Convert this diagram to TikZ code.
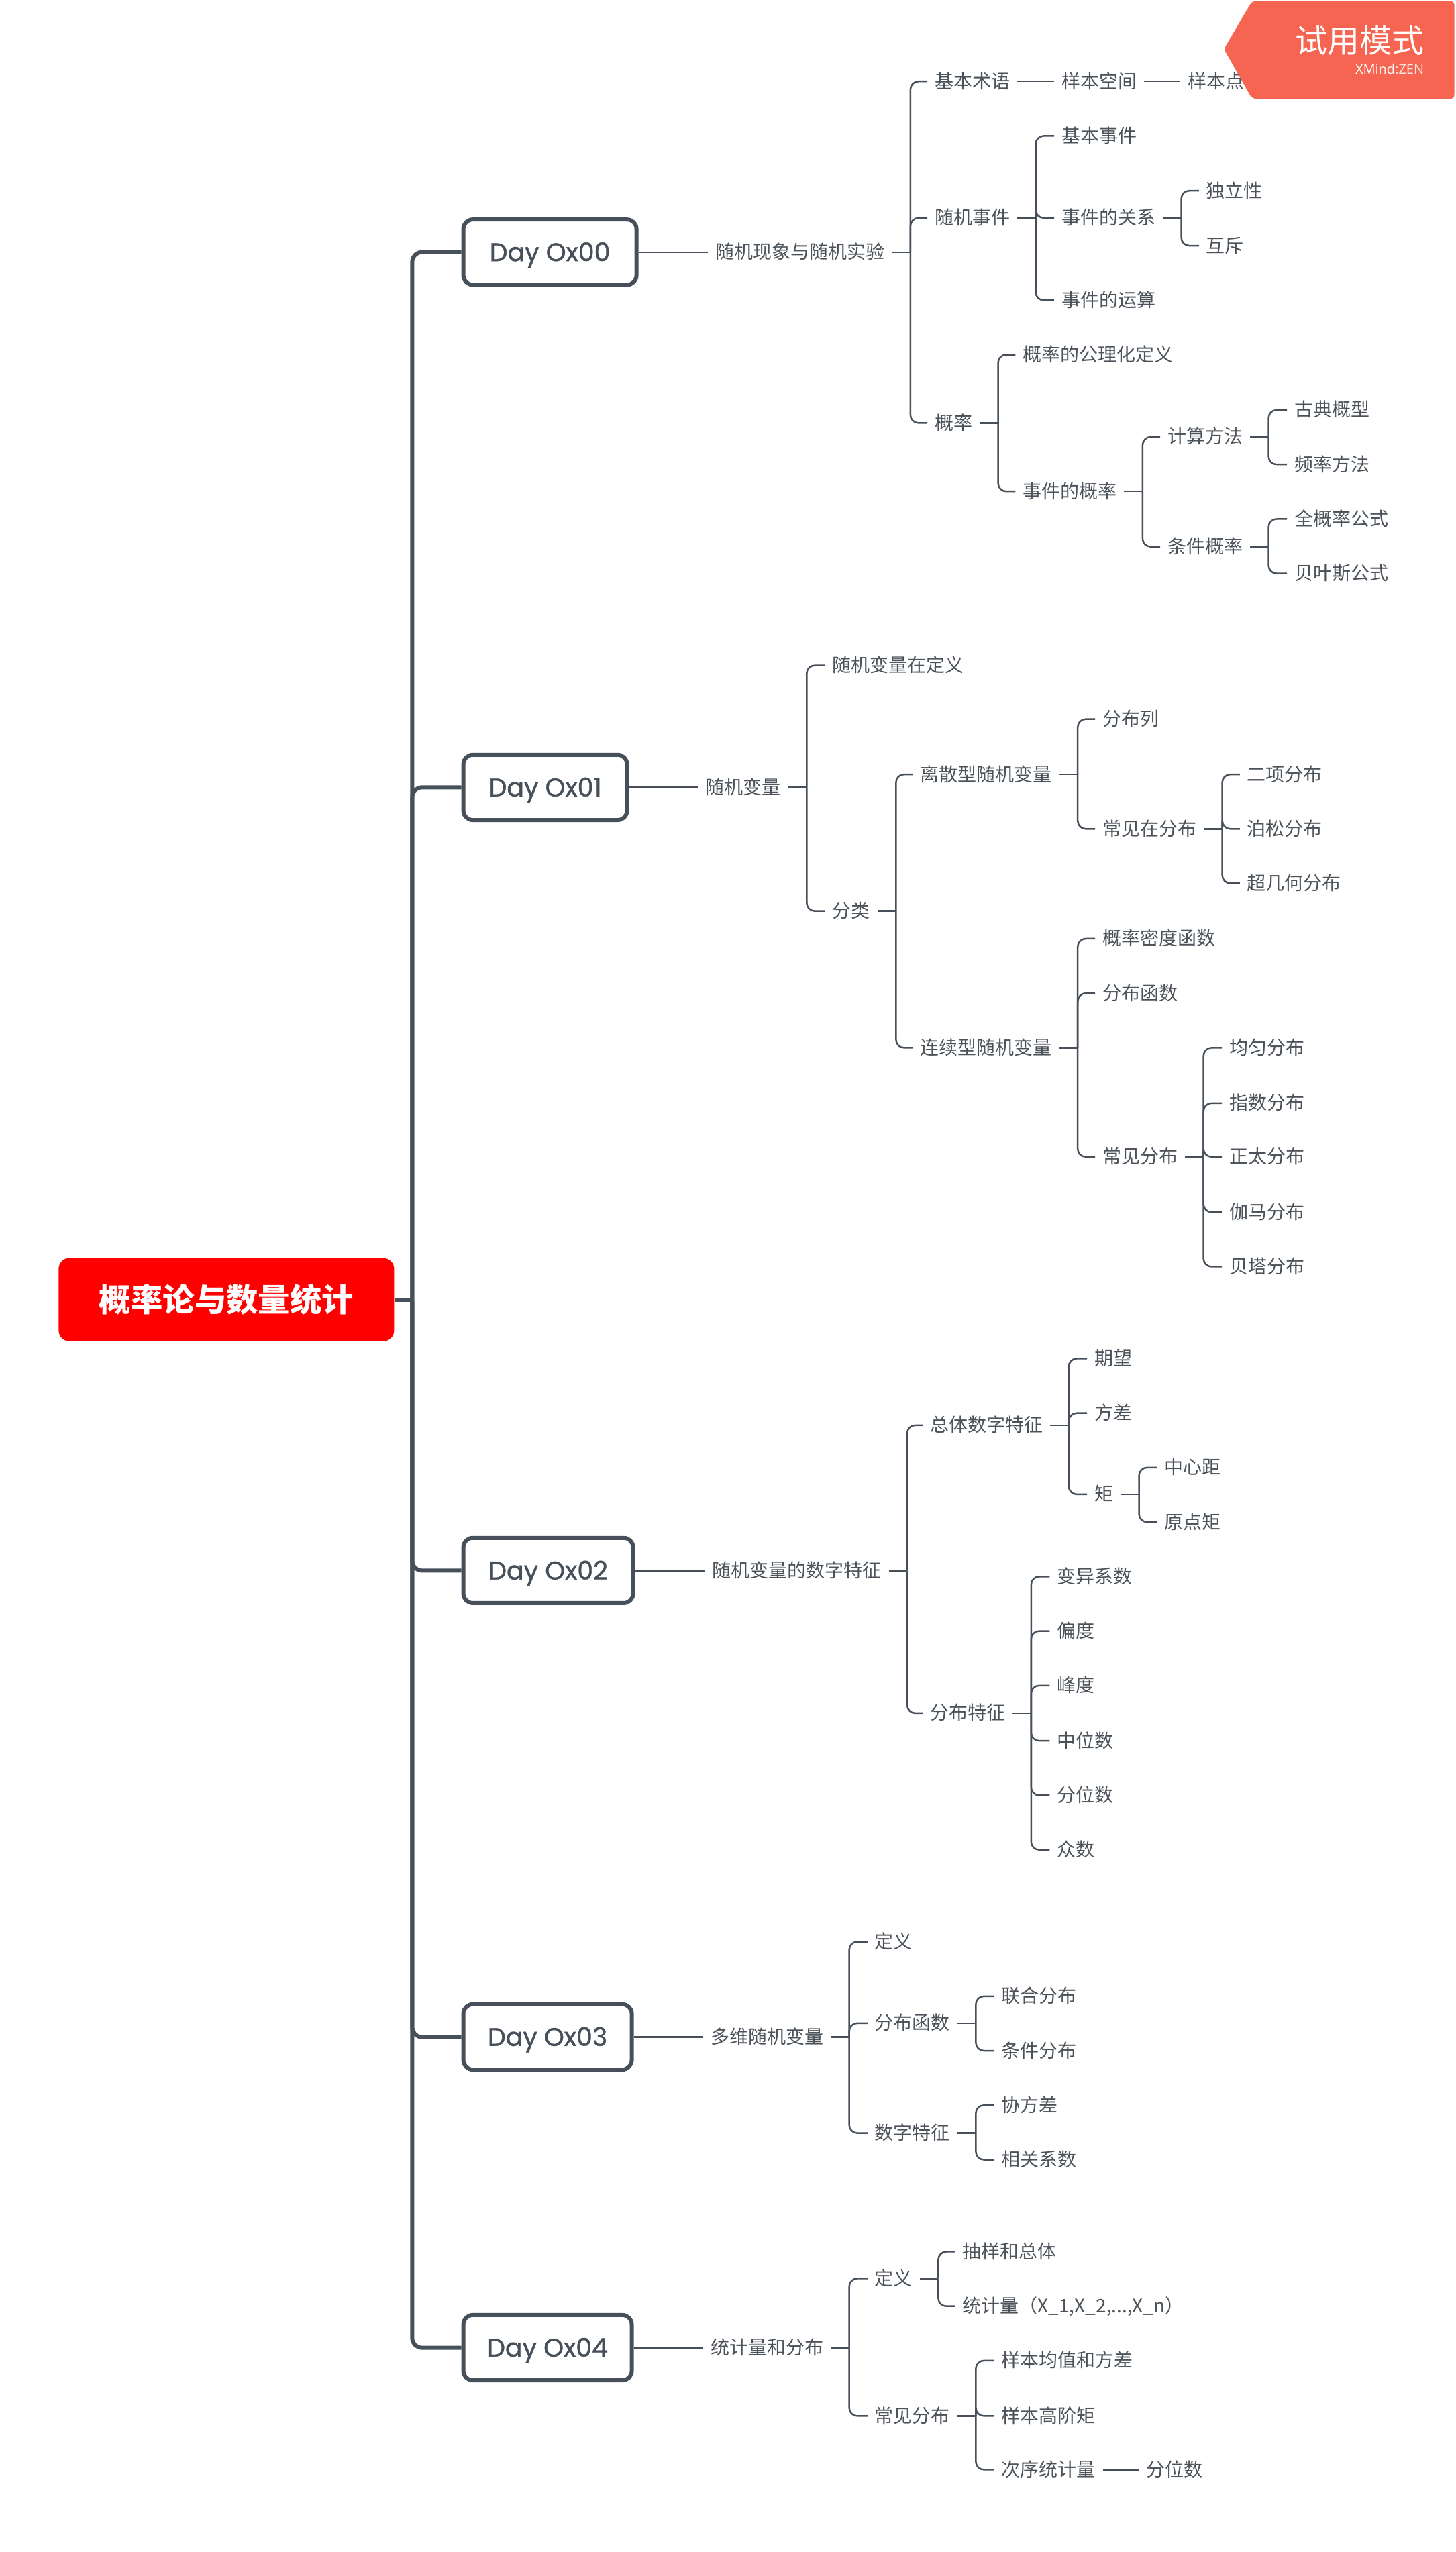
\documentclass[tikz,border=0pt]{standalone}
\usepackage{fontspec}
\setmainfont{Noto Sans CJK SC}
\newfontfamily\dayfont[FakeBold=1]{Poppins}
\newfontfamily\badgelatin{Open Sans}
\usetikzlibrary{calc}
\definecolor{ink}{HTML}{47505A}
\definecolor{inktext}{HTML}{4B5259}
\definecolor{badge}{HTML}{F56551}
\tikzset{
  tx/.style={anchor=west,xshift=-5.5pt,inner xsep=5.5pt,inner ysep=0pt,outer sep=0pt,font=\fontsize{14pt}{14pt}\selectfont,text=inktext,text height=11.9pt,text depth=1.9pt},
  daybox/.style={draw=ink,line width=3pt,rounded corners=7pt,fill=white,anchor=west,minimum width=#1,minimum height=48.6pt,inner sep=0pt,text=ink,font=\fontsize{19pt}{19pt}\dayfont,text height=13.3pt,text depth=0pt},
  rootbox/.style={fill=red,rounded corners=8pt,anchor=west,minimum width=250pt,minimum height=62pt,inner sep=0pt,text=white,font=\fontsize{23.7pt}{24pt}\selectfont\bfseries,text height=20.8pt,text depth=2.8pt},
  trunk/.style={draw=ink,line width=3pt,rounded corners=7pt},
  conn/.style={draw=ink,line width=1.25pt},
  brace/.style={draw=ink,line width=1.25pt,rounded corners=6pt},
}
\newcommand\kids[2]{%
  \draw[conn] (#1.east) -- ++(13.75pt,0) coordinate (jct);
  \foreach \k in {#2}{\draw[brace] (jct) |- (\k.west);}%
}
\newcommand\link[2]{\draw[conn] (#1.east) -- (#2.west);}
\begin{document}
\begin{tikzpicture}[x=1.21175pt,y=-1.2122pt]
\useasboundingbox (0,0) rectangle (895,1568.6);
% root and day boxes
\node[rootbox] (root) at (35.9,798.8) {概率论与数量统计};
\node[daybox=129pt] (d0) at (283.7,155) {Day Ox00};
\node[daybox=122pt] (d1) at (283.7,484) {Day Ox01};
\node[daybox=126.5pt] (d2) at (283.7,965.3) {Day Ox02};
\node[daybox=125.5pt] (d3) at (283.7,1252) {Day Ox03};
\node[daybox=125.5pt] (d4) at (283.7,1443) {Day Ox04};
% branch 0
\node[tx] (a0) at (440,155) {随机现象与随机实验};
\node[tx] (a1) at (574.8,50) {基本术语};
\node[tx] (a2) at (652.8,50) {样本空间};
\node[tx] (a3) at (730.5,50) {样本点};
\node[tx] (a4) at (574.8,134) {随机事件};
\node[tx] (a5) at (652.8,83.5) {基本事件};
\node[tx] (a6) at (652.8,134) {事件的关系};
\node[tx] (a7) at (741.8,117.2) {独立性};
\node[tx] (a8) at (741.8,151) {互斥};
\node[tx] (a9) at (652.8,184.5) {事件的运算};
\node[tx] (a10) at (574.8,260) {概率};
\node[tx] (a11) at (629,218) {概率的公理化定义};
\node[tx] (a12) at (629,302) {事件的概率};
\node[tx] (a13) at (718,268.5) {计算方法};
\node[tx] (a14) at (796,252) {古典概型};
\node[tx] (a15) at (796,285.5) {频率方法};
\node[tx] (a16) at (718,336) {条件概率};
\node[tx] (a17) at (796,319) {全概率公式};
\node[tx] (a18) at (796,352.5) {贝叶斯公式};
% branch 1
\node[tx] (b0) at (434,484) {随机变量};
\node[tx] (b1) at (512,409) {随机变量在定义};
\node[tx] (b2) at (512,560) {分类};
\node[tx] (b3) at (566,476) {离散型随机变量};
\node[tx] (b4) at (678,442) {分布列};
\node[tx] (b5) at (678,509.5) {常见在分布};
\node[tx] (b6) at (767,476) {二项分布};
\node[tx] (b7) at (767,509.5) {泊松分布};
\node[tx] (b8) at (767,543) {超几何分布};
\node[tx] (b9) at (566,644) {连续型随机变量};
\node[tx] (b10) at (678,577) {概率密度函数};
\node[tx] (b11) at (678,610.5) {分布函数};
\node[tx] (b12) at (678,711) {常见分布};
\node[tx] (b13) at (756,644) {均匀分布};
\node[tx] (b14) at (756,678) {指数分布};
\node[tx] (b15) at (756,711) {正太分布};
\node[tx] (b16) at (756,745) {伽马分布};
\node[tx] (b17) at (756,778.5) {贝塔分布};
% branch 2
\node[tx] (c0) at (438,965.3) {随机变量的数字特征};
\node[tx] (c1) at (572,876) {总体数字特征};
\node[tx] (c2) at (673,835) {期望};
\node[tx] (c3) at (673,868.5) {方差};
\node[tx] (c4) at (673,918.5) {矩};
\node[tx] (c5) at (716,902) {中心距};
\node[tx] (c6) at (716,935.5) {原点矩};
\node[tx] (c7) at (572,1053) {分布特征};
\node[tx] (c8) at (650,969) {变异系数};
\node[tx] (c9) at (650,1002.5) {偏度};
\node[tx] (c10) at (650,1036) {峰度};
\node[tx] (c11) at (650,1070) {中位数};
\node[tx] (c12) at (650,1103.5) {分位数};
\node[tx] (c13) at (650,1137) {众数};
% branch 3
\node[tx] (e0) at (437,1252) {多维随机变量};
\node[tx] (e1) at (538,1193.5) {定义};
\node[tx] (e2) at (538,1243.5) {分布函数};
\node[tx] (e3) at (616,1227) {联合分布};
\node[tx] (e4) at (616,1260.5) {条件分布};
\node[tx] (e5) at (538,1311) {数字特征};
\node[tx] (e6) at (616,1294) {协方差};
\node[tx] (e7) at (616,1327.5) {相关系数};
% branch 4
\node[tx] (f0) at (437,1443) {统计量和分布};
\node[tx] (f1) at (538,1400.5) {定义};
\node[tx] (f2) at (592,1384) {抽样和总体};
\node[tx] (f3) at (592,1417.5) {统计量（X\_1,X\_2,...,X\_n）};
\node[tx] (f4) at (538,1485) {常见分布};
\node[tx] (f5) at (616,1451) {样本均值和方差};
\node[tx] (f6) at (616,1485) {样本高阶矩};
\node[tx] (f7) at (616,1518) {次序统计量};
\node[tx] (f8) at (705,1518) {分位数};
% trunk
\draw[trunk] (root.east) -- ++(13.3pt,0) coordinate (tj);
\foreach \d in {d0,d1,d2,d3,d4}{\draw[trunk] (tj) |- (\d.west);}
% connectors
\link{d0}{a0}\link{d1}{b0}\link{d2}{c0}\link{d3}{e0}\link{d4}{f0}
\kids{a0}{a1,a4,a10}
\link{a1}{a2}\link{a2}{a3}
\kids{a4}{a5,a6,a9}
\kids{a6}{a7,a8}
\kids{a10}{a11,a12}
\kids{a12}{a13,a16}
\kids{a13}{a14,a15}
\kids{a16}{a17,a18}
\kids{b0}{b1,b2}
\kids{b2}{b3,b9}
\kids{b3}{b4,b5}
\kids{b5}{b6,b7,b8}
\kids{b9}{b10,b11,b12}
\kids{b12}{b13,b14,b15,b16,b17}
\kids{c0}{c1,c7}
\kids{c1}{c2,c3,c4}
\kids{c4}{c5,c6}
\kids{c7}{c8,c9,c10,c11,c12,c13}
\kids{e0}{e1,e2,e5}
\kids{e2}{e3,e4}
\kids{e5}{e6,e7}
\kids{f0}{f1,f4}
\kids{f1}{f2,f3}
\kids{f4}{f5,f6,f7}
\link{f7}{f8}
% trial badge
\fill[badge,rounded corners=3pt] (752.6,30.2) -- (770,0.6) -- (894.4,0.6) -- (894.4,60.7) -- (770,60.7) -- cycle;
\node[anchor=east,inner sep=0pt,text=white,font=\fontsize{24pt}{24pt}\selectfont] (trial) at (875.8,24.8) {试用模式};
\node[anchor=east,inner sep=0pt,text=white,font=\fontsize{10pt}{10pt}\badgelatin] (brand) at (875.8,42.5) {XMind\textcolor{white!85!badge}{:ZEN}};
\end{tikzpicture}
\end{document}
